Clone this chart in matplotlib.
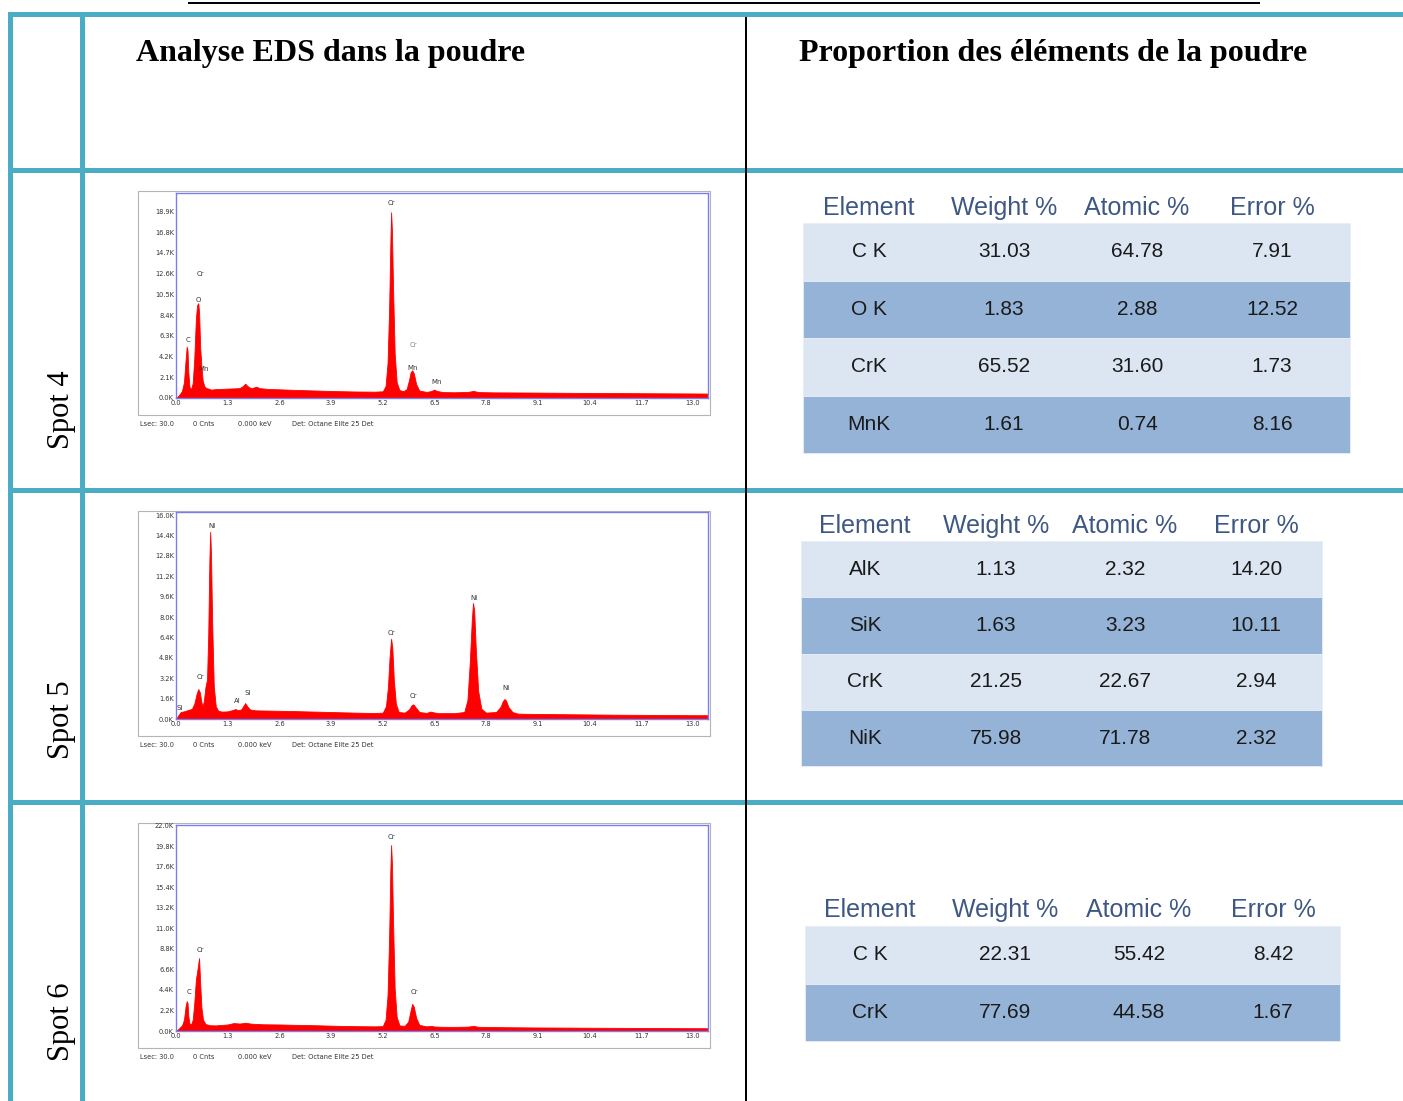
import matplotlib
matplotlib.use("Agg")
import matplotlib.pyplot as plt
from matplotlib.patches import Rectangle

W, H = 1403, 1101

# ---- data ----
spots = ["Spot 4", "Spot 5", "Spot 6"]
headers = ["Analyse EDS dans la poudre", "Proportion des éléments de la poudre"]
table_cols = ["Element", "Weight %", "Atomic %", "Error %"]

# spectra: energy (keV), counts (K)
e4 = [0.00, 0.08, 0.15, 0.20, 0.24, 0.27, 0.29, 0.31, 0.34, 0.38, 0.42, 0.46, 0.50, 0.53, 0.56,
      0.58, 0.61, 0.64, 0.67, 0.71, 0.76, 0.82, 0.88, 1.0, 1.3, 1.6, 1.68, 1.74, 1.80, 1.88,
      1.95, 2.02, 2.10, 2.3, 2.6, 3.0, 3.5, 4.0, 4.5, 5.0, 5.20, 5.27, 5.32, 5.36, 5.39,
      5.41, 5.43, 5.46, 5.50, 5.55, 5.62, 5.72, 5.80, 5.86, 5.90, 5.94, 5.98, 6.04, 6.12, 6.3,
      6.42, 6.49, 6.56, 6.7, 7.0, 7.35, 7.48, 7.6, 8.0, 9.0, 10.0, 11.0, 12.0, 13.0, 13.4]
c4 = [0.0, 0.3, 0.7, 1.6, 3.8, 5.2, 4.8, 2.6, 1.1, 0.9, 1.5, 4.0, 8.0, 9.4, 9.6,
      8.7, 5.0, 3.2, 1.8, 1.2, 1.0, 0.95, 0.85, 0.9, 0.95, 1.0, 1.2, 1.45, 1.2, 1.0,
      1.05, 1.15, 1.0, 0.92, 0.88, 0.82, 0.76, 0.70, 0.66, 0.64, 0.68, 1.2, 3.5, 9.0, 15.5,
      18.8, 17.0, 11.0, 4.5, 1.6, 0.8, 0.7, 0.9, 1.8, 2.6, 2.8, 2.5, 1.4, 0.75, 0.62,
      0.7, 0.85, 0.72, 0.6, 0.58, 0.62, 0.72, 0.6, 0.57, 0.55, 0.52, 0.5, 0.48, 0.46, 0.45]

e5 = [0.0, 0.06, 0.12, 0.2, 0.3, 0.40, 0.46, 0.52, 0.56, 0.60, 0.64, 0.67, 0.70, 0.74, 0.78,
      0.81, 0.84, 0.86, 0.88, 0.91, 0.95, 1.00, 1.06, 1.15, 1.3, 1.42, 1.49, 1.56, 1.64, 1.70,
      1.74, 1.79, 1.86, 2.0, 2.5, 3.0, 3.5, 4.0, 4.5, 5.0, 5.20, 5.28, 5.33, 5.37, 5.41,
      5.44, 5.48, 5.53, 5.60, 5.75, 5.86, 5.93, 5.97, 6.03, 6.12, 6.3, 6.40, 6.48, 6.6, 7.0,
      7.25, 7.33, 7.39, 7.44, 7.47, 7.50, 7.54, 7.60, 7.68, 7.8, 8.05, 8.16, 8.22, 8.26, 8.30,
      8.36, 8.46, 8.6, 9.0, 10.0, 11.0, 12.0, 13.0, 13.4]
c5 = [0.0, 0.3, 0.55, 0.6, 0.7, 0.8, 1.2, 2.0, 2.35, 2.1, 1.3, 1.0, 1.4, 2.5, 3.1,
      6.5, 12.5, 14.7, 13.0, 7.5, 2.6, 1.0, 0.65, 0.58, 0.6, 0.7, 0.78, 0.7, 0.75, 1.05,
      1.25, 1.0, 0.75, 0.68, 0.65, 0.62, 0.58, 0.54, 0.5, 0.47, 0.5, 1.0, 2.5, 4.8, 6.3,
      5.6, 3.0, 1.2, 0.55, 0.5, 0.75, 1.1, 1.15, 0.9, 0.55, 0.48, 0.58, 0.52, 0.46, 0.46,
      0.55, 1.5, 4.5, 7.8, 9.1, 8.5, 5.5, 2.2, 0.8, 0.5, 0.55, 0.95, 1.4, 1.57, 1.45,
      0.95, 0.55, 0.42, 0.4, 0.37, 0.34, 0.32, 0.3, 0.3]

e6 = [0.0, 0.08, 0.15, 0.20, 0.24, 0.27, 0.29, 0.31, 0.34, 0.38, 0.42, 0.46, 0.50, 0.53, 0.56,
      0.58, 0.61, 0.64, 0.68, 0.74, 0.85, 1.0, 1.3, 1.45, 1.6, 1.75, 1.9, 2.2, 2.6, 3.0,
      3.5, 4.0, 4.5, 5.0, 5.20, 5.27, 5.32, 5.36, 5.39, 5.41, 5.43, 5.46, 5.50, 5.55, 5.62,
      5.75, 5.84, 5.90, 5.94, 5.98, 6.04, 6.12, 6.3, 6.42, 6.5, 6.7, 7.0, 7.35, 7.48, 7.6,
      8.0, 9.0, 10.0, 11.0, 12.0, 13.0, 13.4]
c6 = [0.0, 0.3, 0.6, 1.2, 2.6, 3.2, 3.0, 1.6, 0.8, 0.7, 1.2, 3.0, 5.5, 6.3, 7.2,
      7.8, 5.0, 2.5, 1.2, 0.75, 0.62, 0.6, 0.7, 0.85, 0.8, 0.88, 0.78, 0.72, 0.7, 0.66,
      0.62, 0.56, 0.52, 0.5, 0.52, 1.2, 3.8, 10.0, 17.0, 19.9, 18.0, 11.5, 4.5, 1.5, 0.6,
      0.55, 1.0, 2.2, 2.9, 2.6, 1.4, 0.65, 0.5, 0.55, 0.48, 0.45, 0.44, 0.47, 0.55, 0.45,
      0.42, 0.38, 0.36, 0.34, 0.32, 0.3, 0.3]

# y ticks (K) and top of y range for each spectrum
yticks4 = [0.0, 2.1, 4.2, 6.3, 8.4, 10.5, 12.6, 14.7, 16.8, 18.9]
yticks5 = [0.0, 1.6, 3.2, 4.8, 6.4, 8.0, 9.6, 11.2, 12.8, 14.4, 16.0]
yticks6 = [0.0, 2.2, 4.4, 6.6, 8.8, 11.0, 13.2, 15.4, 17.6, 19.8, 22.0]
ytop = [20.75, 16.25, 22.05]
xticks = [0.0, 1.3, 2.6, 3.9, 5.2, 6.5, 7.8, 9.1, 10.4, 11.7, 13.0]

# peak labels: (text, energy, counts K, grey?)
labels4 = [("Cr", 0.62, 12.2, False), ("O", 0.55, 9.6, False), ("C", 0.30, 5.6, False),
           ("Mn", 0.70, 2.6, False), ("Cr", 5.41, 19.4, False), ("Cr", 5.98, 5.1, True),
           ("Mn", 5.96, 2.7, False), ("Mn", 6.55, 1.3, False)]
labels5 = [("Ni", 0.90, 14.9, False), ("Cr", 0.62, 3.1, False), ("Si", 0.10, 0.6, False),
           ("Al", 1.55, 1.2, False), ("Si", 1.80, 1.8, False), ("Cr", 5.41, 6.5, False),
           ("Cr", 5.98, 1.6, False), ("Ni", 7.50, 9.3, False), ("Ni", 8.30, 2.2, False)]
labels6 = [("Cr", 5.41, 20.4, False), ("Cr", 0.62, 8.4, False), ("C", 0.32, 3.8, False),
           ("Cr", 6.00, 3.8, False)]

footer = [("Lsec: 30.0", 0), ("0 Cnts", 53), ("0.000 keV", 98), ("Det: Octane Elite 25 Det", 152)]

# composition tables
elem4 = ["C K", "O K", "CrK", "MnK"]
weight4 = ["31.03", "1.83", "65.52", "1.61"]
atomic4 = ["64.78", "2.88", "31.60", "0.74"]
error4 = ["7.91", "12.52", "1.73", "8.16"]

elem5 = ["AlK", "SiK", "CrK", "NiK"]
weight5 = ["1.13", "1.63", "21.25", "75.98"]
atomic5 = ["2.32", "3.23", "22.67", "71.78"]
error5 = ["14.20", "10.11", "2.94", "2.32"]

elem6 = ["C K", "CrK"]
weight6 = ["22.31", "77.69"]
atomic6 = ["55.42", "44.58"]
error6 = ["8.42", "1.67"]

TEAL = "#4BACC6"
RED = "#FF0000"
LIGHT = "#DCE6F2"
DARK = "#95B3D7"
HEAD_CLR = "#3E5883"


def px_rect(x0, y0, x1, y1):
    return [x0 / W, 1 - y1 / H, (x1 - x0) / W, (y1 - y0) / H]


fig = plt.figure(figsize=(W / 100, H / 100), dpi=100)
base = fig.add_axes([0, 0, 1, 1])
base.set_xlim(0, W)
base.set_ylim(H, 0)
base.axis("off")

# table frame
base.add_patch(Rectangle((188, 2), 1072, 2.2, color="black", lw=0))
for y in [12, 168, 488, 800]:
    base.add_patch(Rectangle((8, y), W - 8, 5, color=TEAL, lw=0))
for x in [8, 80]:
    base.add_patch(Rectangle((x, 12), 5, H - 12, color=TEAL, lw=0))
base.add_patch(Rectangle((745, 17), 2, H - 17, color="black", lw=0))

base.text(136, 53, headers[0], fontsize=23, fontweight="bold", family="Liberation Serif",
          ha="left", va="center")
base.text(799, 53, headers[1], fontsize=23, fontweight="bold", family="Liberation Serif",
          ha="left", va="center")

for name, yc in zip(spots, [410, 720, 1022]):
    base.text(61, yc, name, fontsize=22, family="Liberation Serif", rotation=90,
              ha="center", va="center")

# spectra
spectra = [(e4, c4, yticks4, labels4), (e5, c5, yticks5, labels5), (e6, c6, yticks6, labels6)]
boxes = [(191, 193, 398), (511, 512, 719), (823, 825, 1031)]
for (e, c, yt, labs), top, (box_top, ax_top, ax_bot) in zip(spectra, ytop, boxes):
    base.add_patch(Rectangle((138, box_top), 572, ax_bot - box_top + 17, fill=False,
                             ec="#B4B4B4", lw=0.8))
    for txt, dx in footer:
        base.text(140 + dx, ax_bot + 26, txt, fontsize=4.8, color="#333333",
                  ha="left", va="center")
    ax = fig.add_axes(px_rect(176, ax_top, 708, ax_bot))
    ax.fill_between(e, 0, c, color=RED, lw=0.6, ec=RED)
    ax.set_xlim(0, 13.38)
    ax.set_ylim(0, top)
    ax.set_xticks(xticks)
    ax.set_xticklabels([f"{v:.1f}" for v in xticks])
    ax.set_yticks(yt)
    ax.set_yticklabels([f"{v:.1f}K" for v in yt])
    ax.tick_params(length=0, pad=1.5, labelsize=4.8, labelcolor="#333333")
    for s in ax.spines.values():
        s.set_color("#7B7BEE")
        s.set_linewidth(1.0)
    for txt, x, y, grey in labs:
        ax.text(x, y, txt, fontsize=5, color="#888888" if grey else "#333333",
                ha="center", va="bottom")

# element tables
tables = [
    (elem4, weight4, atomic4, error4, 803, 1350, 208, 223, 57.5, [869, 1004, 1137, 1272]),
    (elem5, weight5, atomic5, error5, 801, 1322, 526, 541, 56.3, [865, 996, 1125, 1256]),
    (elem6, weight6, atomic6, error6, 805, 1340, 910, 926, 57.5, [870, 1005, 1139, 1273]),
]
for el, wt, at, er, x0, x1, yh, yr, rh, cx in tables:
    for col, xc in zip(table_cols, cx):
        base.text(xc, yh, col, fontsize=18, family="Liberation Sans", color=HEAD_CLR,
                  ha="center", va="center")
    for i, row in enumerate(zip(el, wt, at, er)):
        y0 = yr + i * rh
        base.add_patch(Rectangle((x0, y0), x1 - x0, rh, fc=LIGHT if i % 2 == 0 else DARK,
                                 ec="#E8EEF6", lw=0.6))
        for val, xc in zip(row, cx):
            base.text(xc, y0 + rh / 2, val, fontsize=15, family="Liberation Sans",
                      color="#1A1A1A", ha="center", va="center")

fig.savefig("out.png", dpi=100)
